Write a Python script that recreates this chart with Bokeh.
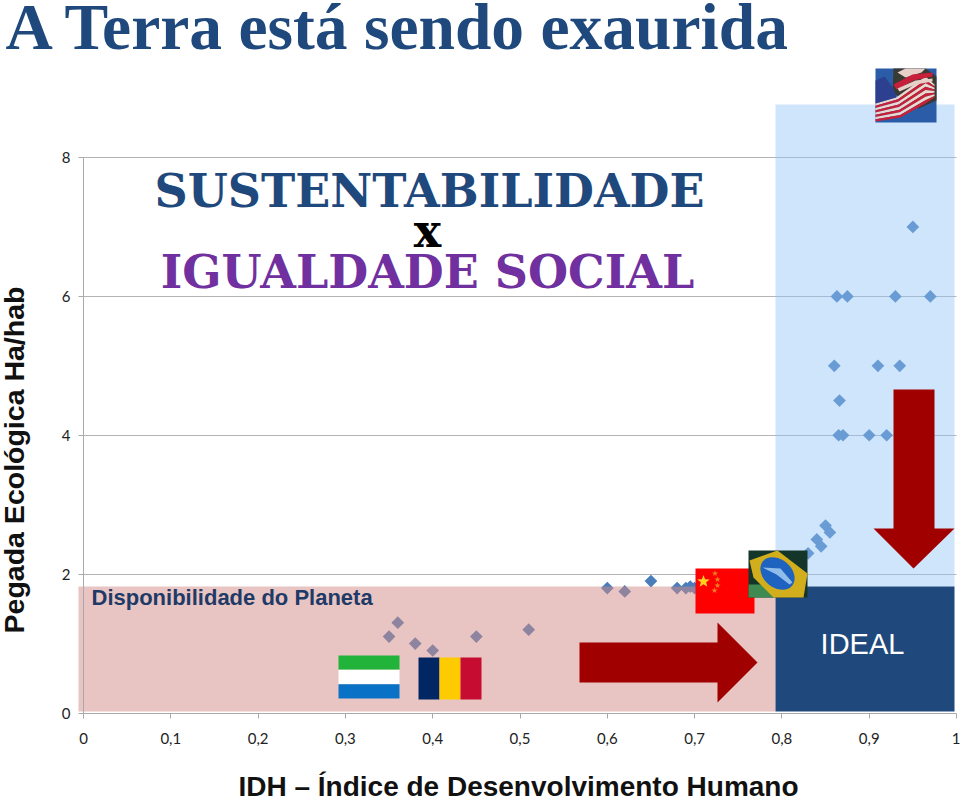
from bokeh.plotting import figure
from bokeh.models import LinearAxis, Grid, FixedTicker, Range1d
from bokeh.embed import file_html
from bokeh.resources import INLINE
from bokeh.core.properties import value
import math

# ---- data ----
idh = [0.35,0.36,0.38,0.40,0.45,0.51,0.60,0.62,0.65,0.68,0.69,0.695,0.70,0.72,0.83,0.84,0.845,0.85,0.855,
       0.865,0.87,0.90,0.92,0.866,0.86,0.91,0.935,0.863,0.875,0.93,0.97,0.95]
pegada = [1.1,1.3,1.0,0.9,1.1,1.2,1.8,1.75,1.9,1.8,1.8,1.82,1.8,1.8,2.3,2.5,2.4,2.7,2.6,
          4,4,4,4,4.5,5,5,5,6,6,6,6,7]
x_ticks = [0,0.1,0.2,0.3,0.4,0.5,0.6,0.7,0.8,0.9,1]
x_labels = ["0","0,1","0,2","0,3","0,4","0,5","0,6","0,7","0,8","0,9","1"]
y_ticks = [0,2,4,6,8]
y_labels = ["0","2","4","6","8"]

W, H = 960, 799
X0, X1 = 83.0, 956.0      # pixel of idh 0 and 1
Y0, Y8 = 712.5, 157.0     # pixel of pegada 0 and 8

def dx(px): return (px - X0) / (X1 - X0)
def dy(py): return (Y0 - py) * 8 / (Y0 - Y8)

p = figure(width=W, height=H, output_backend="svg", toolbar_location=None,
           x_range=Range1d(dx(0), dx(W)), y_range=Range1d(dy(H), dy(0)),
           min_border_left=0, min_border_bottom=0, min_border_top=0, min_border_right=0,
           outline_line_color=None, x_axis_type=None, y_axis_type=None,
           background_fill_color="white")
p.xgrid.visible = False
p.ygrid.visible = False

AX = "#a9a9a9"
xa = LinearAxis(fixed_location=0, ticker=FixedTicker(ticks=x_ticks), bounds=(0, 1),
                major_label_overrides={t: s for t, s in zip(x_ticks, x_labels)})
ya = LinearAxis(fixed_location=0, ticker=FixedTicker(ticks=y_ticks), bounds=(0, 8),
                major_label_overrides={t: s for t, s in zip(y_ticks, y_labels)})
for a in (xa, ya):
    a.axis_line_color = AX
    a.major_tick_line_color = AX
    a.minor_tick_line_color = None
    a.major_tick_out = 5
    a.major_tick_in = 0
    a.major_label_text_font = "Lato"
    a.major_label_text_font_size = "15px"
    a.major_label_text_color = "#222222"
xa.major_label_standoff = 15
ya.major_label_standoff = 8
p.add_layout(xa, "below")
p.add_layout(ya, "left")
p.add_layout(Grid(dimension=1, ticker=FixedTicker(ticks=y_ticks[1:]), bounds=(0, 8), cross_bounds=(0, 1),
                  grid_line_color="#b4b4b4", grid_line_width=1))

# points
p.scatter(idh, pegada, marker="square", size=9, angle=math.pi/4, fill_color="#4a7ebb", line_color=None)

# translucent zones above the points
p.quad(left=[dx(78)], right=[dx(775)], bottom=[dy(711)], top=[dy(586)],
       fill_color="#d18985", fill_alpha=0.5, line_color=None)
p.quad(left=[dx(775)], right=[dx(954)], bottom=[dy(586)], top=[dy(104)],
       fill_color="#92c4f6", fill_alpha=0.44, line_color=None)
p.quad(left=[dx(775)], right=[dx(954)], bottom=[dy(711)], top=[dy(586)],
       fill_color="#1f497d", line_color=None)

def poly(pts, color, alpha=1.0):
    p.patch([dx(a) for a, b in pts], [dy(b) for a, b in pts], fill_color=color, line_color=None, fill_alpha=alpha)

def bands(x0, x1, y0, y1, colors, vertical=False):
    n = len(colors)
    for i, c in enumerate(colors):
        if vertical:
            a, b = x0 + (x1 - x0) * i / n, x0 + (x1 - x0) * (i + 1) / n
            poly([(a, y0), (b, y0), (b, y1), (a, y1)], c)
        else:
            a, b = y0 + (y1 - y0) * i / n, y0 + (y1 - y0) * (i + 1) / n
            poly([(x0, a), (x1, a), (x1, b), (x0, b)], c)

def oval(cx, cy, rx, ry, rot, color):
    pts = []
    for i in range(36):
        t = i * math.pi / 18
        ex, ey = rx * math.cos(t), ry * math.sin(t)
        pts.append((cx + ex * math.cos(rot) - ey * math.sin(rot), cy + ex * math.sin(rot) + ey * math.cos(rot)))
    poly(pts, color)

# arrows
RED = "#a00000"
poly([(579,642),(717,642),(717,622),(757,662),(717,702),(717,682),(579,682)], RED)
poly([(893,389),(934,389),(934,528),(954,528),(913,568),(873,528),(893,528)], RED)

# flags
bands(338, 399, 655, 698, ["#22b33a", "#ffffff", "#0a72c6"])
bands(418, 481, 657, 699, ["#002664", "#fecb00", "#c60c30"], vertical=True)

poly([(695,568),(754,568),(754,613),(695,613)], "#ff0000")
def star(cx, cy, r, color="#ffd21f"):
    pts = []
    for i in range(10):
        ang = -math.pi / 2 + i * math.pi / 5
        rr = r if i % 2 == 0 else r * 0.42
        pts.append((cx + rr * math.cos(ang), cy + rr * math.sin(ang)))
    poly(pts, color)
star(703, 581, 6.5)
for c in [(714.5,573),(717,579),(717,585),(714,590)]:
    star(c[0], c[1], 3.2, "#f07a20")

# Brazil
poly([(748,550),(807,550),(807,597),(748,597)], "#14362a")
poly([(748,584),(770,584),(775,597),(748,597)], "#3e8a50")
poly([(749,560),(777,550),(807,573),(803,597),(773,597),(753,577)], "#d2ae1c")
oval(777, 573, 19, 14, 0.7, "#1f63c0")
poly([(762,567),(780,568),(792,582),(789,584),(776,574)], "#8fbce8")

# USA
poly([(875,68),(936,68),(936,122),(875,122)], "#2a5ca8")
poly([(893,68),(925,68),(936,76),(936,100),(918,108),(892,92)], "#3a3a34")
top = [(875,103),(897,96),(925,76),(934,84)]
bot = [(875,121),(900,117),(925,103),(934,97)]
cols = ["#e8d8d0","#c8203a","#e8d8d0","#c8203a","#e8d8d0","#c8203a","#e8d8d0","#c8203a"]
for k, c in enumerate(cols):
    f0, f1 = k / len(cols), (k + 1) / len(cols)
    up = [(a[0] + (b[0]-a[0])*f0, a[1] + (b[1]-a[1])*f0) for a, b in zip(top, bot)]
    lo = [(a[0] + (b[0]-a[0])*f1, a[1] + (b[1]-a[1])*f1) for a, b in zip(top, bot)]
    poly(up + lo[::-1], c)
poly([(897,72),(905,68),(925,68),(921,72),(905,77)], "#e8d0c8")
poly([(893,84),(912,74),(932,72),(932,76),(913,80),(896,89)], "#c8203a")
poly([(897,88),(915,80),(932,78),(932,81),(915,84),(899,91)], "#e8d0c8")
poly([(875,80),(884,76),(893,88),(896,97),(875,103)], "#2d3f8f")

def label(txt, px, py, size, font, color, style="normal", align="left", angle=0):
    p.text([dx(px)], [dy(py)], text=[txt], text_font=value(font), text_font_size=f"{size}px",
           text_color=color, text_font_style=style, text_align=align, text_baseline="middle", angle=angle)

label("A Terra está sendo exaurida", 5, 26, 65.5, "Liberation Serif", "#1f497d", "bold")
label("SUSTENTABILIDADE", 429, 190, 46, "DejaVu Serif", "#1f497d", "bold", align="center")
label("x", 427, 230, 46, "DejaVu Serif", "#000000", "bold", align="center")
label("IGUALDADE SOCIAL", 427, 271, 46, "DejaVu Serif", "#7030a0", "bold", align="center")
label("Disponibilidade do Planeta", 91, 597, 22, "Liberation Sans", "#1f3a66", "bold")
label("IDEAL", 862, 643, 29, "Liberation Sans", "#ffffff", align="center")
label("IDH – Índice de Desenvolvimento Humano", 518, 786, 28, "Liberation Sans", "#111111", "bold", align="center")
label("Pegada Ecológica Ha/hab", 13, 459.5, 28.5, "Liberation Sans", "#111111", "bold", align="center", angle=math.pi/2)

open("out.html", "w").write(file_html(p, INLINE))
